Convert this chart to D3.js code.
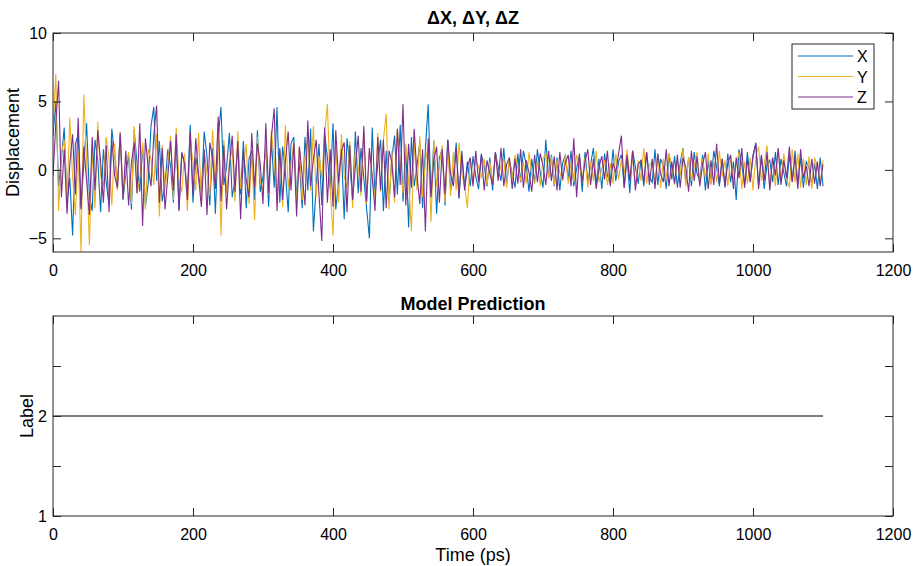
<!DOCTYPE html>
<html>
<head>
<meta charset="utf-8">
<script src="https://cdn.jsdelivr.net/npm/d3@7"></script>
<style>
  body { margin: 0; background: #fff; }
  svg { font-family: 'Liberation Sans', Arial, sans-serif; }
</style>
</head>
<body>
<svg width="917" height="566"></svg>
<script>
// samples every 4 ps
const step = 4
const dx = [
  2.5, 5.0, -1.2, 0.8, 3.1, -2.4, -0.6, -4.8, 1.9, 2.6, -2.8, 0.4,
  3.4, -1.9, -3.0, 2.2, 0.7, -3.1, 1.5, -0.9, -2.5, 3.0, 1.2, -1.4,
  2.6, -2.2, -0.3, 1.1, -2.9, 2.9, 0.5, -1.6, 1.8, -2.7, -1.0, 3.2,
  4.6, -0.8, 2.1, -2.3, -1.1, 1.5, 0.3, -2.4, 2.4, -2.9, 1.2, 0.6,
  -1.8, 3.3, -2.4, 0.9, -0.4, -1.7, 2.8, 1.0, -2.6, 1.6, -3.2, 2.3,
  4.6, -1.1, 0.2, 2.7, -2.0, -0.7, 1.8, -1.8, 2.1, -2.8, 0.8, 1.4,
  -2.2, 2.9, -1.6, -0.5, 1.8, -2.7, 2.2, -1.3, 4.6, -2.4, 1.7, -0.2,
  -3.1, 1.9, 2.4, -2.0, 0.6, -2.8, 2.4, -1.5, 3.0, -4.5, -1.2, 1.9,
  -2.6, 2.7, 0.9, -1.4, 3.4, -2.9, -0.8, 1.5, -3.6, 2.3, 0.4, -2.2,
  2.8, -1.7, 1.6, -0.6, -2.8, -5.0, 3.1, -1.9, 0.5, 2.2, -3.0, 1.4,
  -2.4, 0.8, 2.5, -1.8, 3.3, -2.3, 1.7, -4.2, 2.4, -1.2, 0.3, 2.0,
  -2.8, 1.5, 4.8, -2.0, 2.1, -3.2, 0.9, 1.5, -2.6, 2.2, -1.5, -0.4,
  2.0, -2.1, 1.4, -1.3, 0.6, -1.2, 1.0, -0.5, -1.4, 1.1, 0.3, -1.2,
  0.9, -1.5, 1.3, 0.2, -0.8, 1.6, -1.1, 0.7, -0.3, -1.3, 1.2, -0.9,
  1.4, 0.4, -1.6, 0.8, -1.0, 1.5, -0.2, -1.3, 2.2, -0.6, 1.1, -1.2,
  0.9, -1.5, 0.5, 1.1, -0.7, 1.4, -1.2, 0.1, 1.0, -1.6, 1.3, -0.9,
  0.4, 1.6, -1.1, 0.8, -1.4, 1.2, -0.4, -1.0, 1.5, -0.8, 0.6, 1.1,
  -1.3, 0.9, -1.7, 1.4, 0.2, -1.0, 0.7, -1.2, 1.3, -0.5, -0.9, 1.5,
  -1.1, 0.8, 0.3, -1.4, 1.2, -0.7, 1.0, -1.3, 0.5, 1.6, -1.0, 0.9,
  -1.2, 1.3, -0.3, -0.8, 1.1, -1.5, 0.7, -1.0, 1.4, 0.2, -1.2, 0.8,
  -1.3, 1.2, -0.9, 0.6, -2.2, 1.5, 0.3, -1.1, 1.3, -0.8, 0.9, 2.0,
  -1.2, 1.0, -1.4, 0.4, 0.7, -0.9, 1.3, -1.1, 0.8, -0.2, -1.2, 1.1,
  -0.8, 1.4, -1.0, 0.9, -1.3, 0.6, 0.2, -1.1, 0.5, -1.4, 0.9, -1.2
]
const dy = [
  3.0, 7.0, -3.0, 1.2, 2.2, -2.1, 3.8, -0.5, -3.3, 1.4, -6.0, 5.5,
  0.6, -5.5, 1.6, -2.8, 3.5, -0.4, -1.2, 2.4, 0.9, -2.6, 1.9, -1.5,
  2.8, -2.0, 0.3, 1.3, -2.5, 3.2, -1.7, -0.6, 2.0, -2.9, 1.5, 0.8,
  -1.1, 2.6, -3.4, 1.8, -1.4, 0.4, 2.5, -2.2, 3.1, -0.7, -1.6, 1.2,
  -3.0, 2.0, 0.6, -1.5, 2.7, -2.4, 1.4, -0.3, -1.9, 2.9, -1.2, 3.4,
  -4.8, 2.2, -1.7, 0.5, 1.5, -2.3, 2.8, -1.4, 0.2, 1.9, -2.5, 1.2,
  -3.7, 2.4, -0.8, -1.6, 2.0, -1.8, 2.9, 0.7, -2.2, 1.5, -2.7, 3.3,
  -1.3, 0.4, 2.0, -2.6, 1.7, -2.2, 0.9, 2.4, -1.5, 3.2, -2.0, 1.0,
  -0.6, 2.6, 4.8, -1.3, -4.8, 1.8, -2.4, 2.6, -0.5, -1.3, 2.1, -2.8,
  1.6, 0.3, -1.9, 2.7, -2.5, 1.3, -0.4, -2.1, 2.7, -1.6, 2.2, 4.1,
  -2.9, 1.4, -2.4, 3.0, 0.5, -1.7, 1.9, -0.8, -4.5, 2.3, -1.5, 2.5,
  -2.0, 0.6, 1.7, -3.8, 2.2, -1.2, 0.4, 1.8, -2.4, 1.6, -1.9, 1.3,
  -1.5, 2.0, -0.3, -1.1, -2.8, 0.9, -1.0, 0.7, 0.2, -0.6, 0.8, -1.1,
  0.6, -0.9, 1.2, -0.5, 0.3, 0.8, -1.3, 0.9, -0.7, 1.1, 0.2, -0.8,
  0.6, -1.0, 1.3, -0.4, -0.9, 0.7, -1.2, 0.8, 1.2, -0.6, 1.0, -1.1,
  0.7, -0.2, -0.8, 1.2, -1.0, 0.5, -0.9, 1.1, 0.3, -0.7, 0.9, -1.3,
  0.6, -0.8, 1.4, -0.9, 0.1, 0.7, -1.1, 0.5, -1.0, 1.2, -0.7, 0.8,
  -0.3, 1.5, -0.6, 0.9, -1.2, 0.7, -0.8, 1.6, -1.0, 0.4, 0.6, -0.9,
  1.1, -1.3, 0.8, -0.7, 1.2, 0.3, -1.1, 0.7, -0.4, 1.6, -1.2, 0.9,
  -0.8, 0.2, 1.3, -1.0, 0.8, -0.6, 1.2, -1.1, 0.6, -0.9, 1.4, -0.5,
  0.7, -1.2, 1.0, -0.7, 0.3, 1.3, -1.4, 0.6, -1.0, 0.9, -1.5, 1.0,
  1.7, -0.8, 0.4, 1.8, -1.3, 0.9, -1.2, 1.5, -0.9, 1.2, -0.6, -1.3,
  1.5, -0.9, 1.2, -1.3, 0.8, -1.1, 1.0, -1.4, 0.9, 0.2, -1.0, 0.7
]
const dz = [
  -0.5, 3.4, 6.5, -2.0, 1.5, -3.2, 0.4, 2.6, -1.8, 3.8, -2.9, 1.7,
  -0.8, -3.3, 2.4, -1.5, 2.9, 0.6, -2.4, 1.8, -3.1, 2.2, -0.4, -1.3,
  2.7, -2.1, 1.4, -2.6, 0.5, 2.0, -1.7, 3.4, -4.1, 2.3, 0.2, -1.2,
  2.5, 4.7, -2.4, 1.6, -2.9, -0.5, 2.1, -1.5, 2.6, -3.0, 1.3, 0.4,
  -2.2, 2.8, -1.8, 2.3, -0.6, -2.7, 1.5, -3.3, 2.0, 0.8, -1.4, 3.9,
  -2.3, 1.8, -2.9, 0.3, 2.5, -1.6, 2.1, -3.6, 1.4, -0.7, -2.0, 2.7,
  -1.3, 1.9, 0.5, -2.5, 3.4, -1.7, 2.4, 4.5, -3.0, 1.6, -2.2, 0.6,
  2.8, -1.5, 2.0, -3.4, 1.7, -0.4, -2.6, 3.6, -1.2, 0.8, 2.2, -1.8,
  -5.2, 3.1, -2.4, 1.5, -2.7, 2.9, -0.9, 1.4, 2.0, -3.1, 1.8, -2.2,
  0.3, 2.5, -1.6, 3.2, -2.3, 1.6, -0.5, -3.0, 2.4, -1.5, 2.2, -2.8,
  1.4, 0.6, -2.0, 3.0, -1.1, 4.8, -2.6, 1.9, -1.3, 3.0, -0.4, -2.5,
  1.5, -4.5, 2.3, -2.0, 0.7, 1.7, -2.4, 1.5, -1.8, 2.2, -0.3, -1.2,
  1.6, -2.0, 1.1, -1.5, 0.2, 0.9, -1.2, 1.4, -0.9, 1.2, -1.5, 0.7,
  -0.3, -1.1, 1.3, -0.8, 1.6, -1.2, 0.4, 0.9, -1.4, 0.8, -1.0, 1.5,
  -1.3, 0.7, -0.2, -1.6, 1.1, -0.9, 1.2, 0.3, -1.1, 1.4, -0.8, 1.0,
  -1.5, 1.3, -0.7, 0.5, 1.1, -1.2, 2.3, -2.0, 1.2, -0.9, 0.6, 1.5,
  -1.1, 0.8, -1.4, 0.2, 1.0, -0.7, 1.4, -1.2, 0.5, -0.2, 1.2, 2.5,
  -1.3, 1.1, -0.8, 1.4, -1.5, 0.4, 0.7, -1.0, 1.3, -1.1, 0.8, -1.4,
  1.2, -0.3, -0.9, 1.5, -1.2, 0.6, -1.0, 1.1, -1.3, 0.9, 0.2, -1.6,
  1.4, -0.8, 1.0, -1.2, 0.4, 1.3, -1.4, 0.7, -1.1, 1.9, -1.0, 0.8,
  -1.2, 0.5, 1.1, -1.4, 0.9, -0.6, 1.6, -1.3, 0.8, -0.9, 1.1, 1.9,
  -1.4, 1.1, -0.8, 1.3, -1.5, 0.9, -0.4, 1.6, -1.1, 0.7, -0.6, 1.7,
  -0.9, 1.0, -1.4, 1.5, -0.6, 0.3, -1.2, 0.8, -1.0, 0.6, -1.2, 0.4
]
const seriesNames = ['X', 'Y', 'Z']
const seriesColors = ['#0072BD', '#EDB120', '#7E2F8E']
// model output: constant label over the whole run
const predTime = [0, 1100]
const predLabel = [2, 2]

const xTicks = [0, 200, 400, 600, 800, 1000, 1200]
const topYTicks = [-5, 0, 5, 10]
const botYTicks = [1, 1.5, 2, 2.5]
const botYLabels = { 1: '1', 2: '2' }

const svg = d3.select('svg')
const left = 53, right = 893
const axisCol = '#262626'

const x = d3.scaleLinear().domain([0, 1200]).range([left, right])
const y1 = d3.scaleLinear().domain([-6, 10]).range([252, 33])
const y2 = d3.scaleLinear().domain([1, 3]).range([516, 316])

function frame(y, yTicks, yFmt, title, titleY) {
  const [b, t] = y.range()
  const g = svg.append('g')
  g.append('rect')
    .attr('x', left).attr('y', t)
    .attr('width', right - left).attr('height', b - t)
    .attr('fill', 'none').attr('stroke', axisCol).attr('stroke-width', 1)
  const ax = (a) => a.call((s) => s.select('.domain').remove())
    .call((s) => s.selectAll('line').attr('stroke', axisCol))
    .call((s) => s.selectAll('text').attr('fill', '#000').attr('font-size', 16))
  g.append('g').attr('transform', `translate(0,${b})`)
    .call(d3.axisBottom(x).tickValues(xTicks).tickSize(-8).tickPadding(13).tickFormat(d3.format('d')))
    .call(ax)
  g.append('g').attr('transform', `translate(0,${t})`)
    .call(d3.axisTop(x).tickValues(xTicks).tickSize(-8).tickFormat(''))
    .call(ax)
  g.append('g').attr('transform', `translate(${left},0)`)
    .call(d3.axisLeft(y).tickValues(yTicks).tickSize(-8).tickPadding(6).tickFormat(yFmt))
    .call(ax)
  g.append('g').attr('transform', `translate(${right},0)`)
    .call(d3.axisRight(y).tickValues(yTicks).tickSize(-8).tickFormat(''))
    .call(ax)
  svg.append('text')
    .attr('x', (left + right) / 2).attr('y', titleY)
    .attr('text-anchor', 'middle').attr('font-weight', 'bold').attr('font-size', 18)
    .text(title)
  return g
}

// top panel
svg.append('clipPath').attr('id', 'clipTop')
  .append('rect').attr('x', left).attr('y', 33).attr('width', right - left).attr('height', 219)

const line1 = d3.line().x((d, i) => x(i * step)).y((d) => y1(d))
;[dx, dy, dz].forEach((s, k) => {
  svg.append('path')
    .attr('clip-path', 'url(#clipTop)')
    .attr('d', line1(s))
    .attr('fill', 'none')
    .attr('stroke', seriesColors[k])
    .attr('stroke-width', 1.1)
})
frame(y1, topYTicks, d3.format('d'), 'ΔX, ΔY, ΔZ', 24)

svg.append('text')
  .attr('transform', `translate(19,${(33 + 252) / 2}) rotate(-90)`)
  .attr('text-anchor', 'middle').attr('font-size', 18)
  .text('Displacement')

// legend
const lg = svg.append('g').attr('transform', 'translate(792,44)')
lg.append('rect').attr('width', 82).attr('height', 65)
  .attr('fill', '#fff').attr('stroke', axisCol).attr('stroke-width', 1)
seriesNames.forEach((n, k) => {
  const yy = 12 + k * 20.5
  lg.append('line').attr('x1', 6).attr('x2', 61).attr('y1', yy).attr('y2', yy)
    .attr('stroke', seriesColors[k]).attr('stroke-width', 1)
  lg.append('text').attr('x', 65).attr('y', yy + 6).attr('font-size', 16).text(n)
})

// bottom panel
const line2 = d3.line().x((d, i) => x(predTime[i])).y((d) => y2(d))
svg.append('path')
  .attr('d', line2(predLabel))
  .attr('fill', 'none').attr('stroke', '#000').attr('stroke-width', 1)
frame(y2, botYTicks, (d) => botYLabels[d] || '', 'Model Prediction', 310)

svg.append('text')
  .attr('transform', `translate(33,${(316 + 516) / 2}) rotate(-90)`)
  .attr('text-anchor', 'middle').attr('font-size', 18)
  .text('Label')
svg.append('text')
  .attr('x', (left + right) / 2).attr('y', 561)
  .attr('text-anchor', 'middle').attr('font-size', 18)
  .text('Time (ps)')
</script>
</body>
</html>
